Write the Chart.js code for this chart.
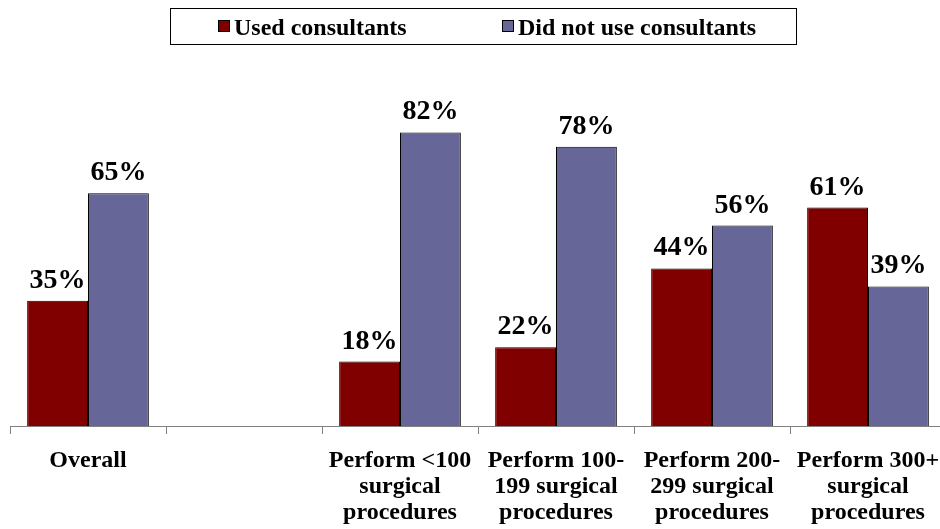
<!DOCTYPE html>
<html>
<head>
<meta charset="utf-8">
<script src="https://cdn.jsdelivr.net/npm/chart.js@4"></script>
<style>
  body { margin: 0; background: #fff; overflow: hidden; }
  #wrap { width: 940px; height: 529px; overflow: hidden; }
</style>
</head>
<body>
<div id="wrap"><canvas id="myChart" width="950" height="540" style="width:950px;height:540px"></canvas></div>
<script>
const categories = [
  ["Overall"],
  [""],
  ["Perform <100", "surgical", "procedures"],
  ["Perform 100-", "199 surgical", "procedures"],
  ["Perform 200-", "299 surgical", "procedures"],
  ["Perform 300+", "surgical", "procedures"]
];
const usedConsultants = [35, null, 18, 22, 44, 61];
const didNotUse = [65, null, 82, 78, 56, 39];
const seriesNames = ["Used consultants", "Did not use consultants"];

const FONT = "'Liberation Serif', 'Times New Roman', serif";

// value labels above each bar
const valueLabels = {
  id: "valueLabels",
  afterDatasetsDraw(chart) {
    const ctx = chart.ctx;
    ctx.save();
    ctx.font = "bold 28px " + FONT;
    ctx.fillStyle = "#000";
    ctx.textAlign = "center";
    ctx.textBaseline = "alphabetic";
    chart.data.datasets.forEach((ds, i) => {
      chart.getDatasetMeta(i).data.forEach((bar, j) => {
        const v = ds.data[j];
        if (v == null) return;
        ctx.fillText(v + "%", bar.x, bar.y - 13);
      });
    });
    ctx.restore();
  }
};

// boxed legend at the top
const boxLegend = {
  id: "boxLegend",
  afterDraw(chart) {
    const ctx = chart.ctx;
    ctx.save();
    ctx.strokeStyle = "#000";
    ctx.lineWidth = 1;
    ctx.strokeRect(170.5, 8.5, 626, 36);
    ctx.font = "bold 24px " + FONT;
    ctx.textBaseline = "alphabetic";
    const xs = [218, 502];
    chart.data.datasets.forEach((ds, i) => {
      ctx.fillStyle = ds.backgroundColor;
      ctx.fillRect(xs[i] + 0.5, 20.5, 11, 11);
      ctx.strokeStyle = "#000";
      ctx.strokeRect(xs[i] + 0.5, 20.5, 11, 11);
      ctx.fillStyle = "#000";
      ctx.fillText(ds.label, xs[i] + 16, 35);
    });
    ctx.restore();
  }
};

new Chart(document.getElementById("myChart").getContext("2d"), {
  type: "bar",
  data: {
    labels: categories,
    datasets: [
      {
        label: seriesNames[0],
        data: usedConsultants,
        backgroundColor: "#800000",
        borderColor: "#000",
        borderWidth: 1
      },
      {
        label: seriesNames[1],
        data: didNotUse,
        backgroundColor: "#666699",
        borderColor: "#000",
        borderWidth: 1
      }
    ]
  },
  options: {
    responsive: false,
    animation: false,
    layout: { padding: { top: 68, left: 10, right: 4, bottom: 0 } },
    plugins: {
      legend: { display: false },
      tooltip: { enabled: false }
    },
    datasets: {
      bar: { categoryPercentage: 0.78, barPercentage: 1 }
    },
    scales: {
      x: {
        afterFit(scale) {
          scale.height = 114;
          scale.paddingLeft = 0;
          scale.paddingRight = 0;
        },
        grid: {
          offset: true,
          drawOnChartArea: false,
          drawTicks: true,
          tickLength: 8,
          color: "#808080"
        },
        border: { color: "#808080", width: 1 },
        ticks: {
          color: "#000",
          font: { family: FONT, size: 24, weight: "bold", lineHeight: "26px" },
          padding: 14,
          maxRotation: 0,
          autoSkip: false
        }
      },
      y: {
        display: false,
        min: 0,
        max: 100
      }
    }
  },
  plugins: [valueLabels, boxLegend]
});
</script>
</body>
</html>
